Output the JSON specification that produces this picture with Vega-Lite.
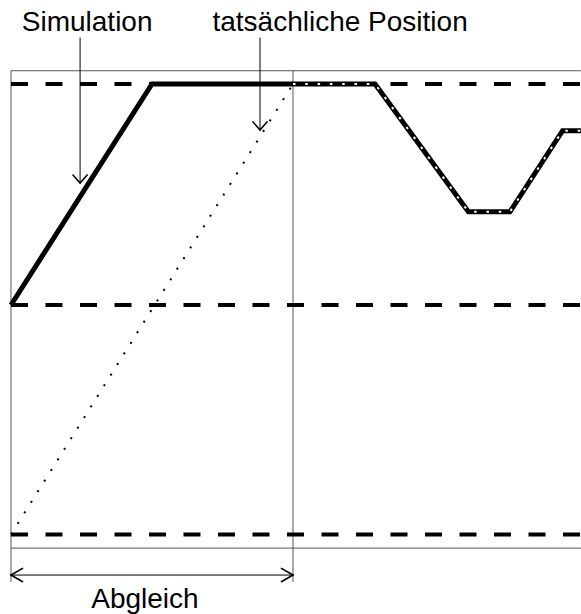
{
  "$schema": "https://vega.github.io/schema/vega-lite/v6.json",
  "width": 581,
  "height": 614,
  "autosize": "none",
  "padding": 0,
  "background": "white",
  "config": {"view": {"stroke": null}},
  "datasets": {
    "rules": [
      {"g": "f", "x": 0, "y": 106, "x2": 202.1, "y2": 106},
      {"g": "f", "x": 0, "y": -110, "x2": 202.1, "y2": -110},
      {"g": "f", "x": 0, "y": 106, "x2": 0, "y2": -125.3},
      {"g": "f", "x": 100, "y": 106, "x2": 100, "y2": -125.3},
      {"g": "a", "x": 24.5, "y": 121, "x2": 24.5, "y2": 55.2},
      {"g": "h", "x": 21.98, "y": 58.82, "x2": 24.5, "y2": 55.2},
      {"g": "h", "x": 27.02, "y": 58.82, "x2": 24.5, "y2": 55.2},
      {"g": "a", "x": 88.3, "y": 121, "x2": 88.3, "y2": 79.2},
      {"g": "h", "x": 85.82, "y": 82.82, "x2": 88.3, "y2": 79.2},
      {"g": "h", "x": 90.78, "y": 82.82, "x2": 88.3, "y2": 79.2},
      {"g": "a", "x": 0, "y": -122.2, "x2": 100, "y2": -122.2},
      {"g": "h", "x": 4.1, "y": -119.2, "x2": 0, "y2": -122.2},
      {"g": "h", "x": 4.1, "y": -125.2, "x2": 0, "y2": -122.2},
      {"g": "h", "x": 95.9, "y": -119.2, "x2": 100, "y2": -122.2},
      {"g": "h", "x": 95.9, "y": -125.2, "x2": 100, "y2": -122.2}
    ],
    "dash": [
      {"x": 0, "x2": 202.1, "y": 100},
      {"x": 0, "x2": 202.1, "y": 0},
      {"x": 0, "x2": 202.1, "y": -103.8}
    ],
    "sim": [
      {"i": 0, "x": 0, "y": 0},
      {"i": 1, "x": 50, "y": 100},
      {"i": 2, "x": 129.1, "y": 100},
      {"i": 3, "x": 162.2, "y": 42.2},
      {"i": 4, "x": 176.95, "y": 42.2},
      {"i": 5, "x": 195.6, "y": 78.9},
      {"i": 6, "x": 202.1, "y": 78.9}
    ],
    "ovl": [
      {"i": 0, "x": 100, "y": 100},
      {"i": 1, "x": 129.1, "y": 100},
      {"i": 2, "x": 162.2, "y": 42.2},
      {"i": 3, "x": 176.95, "y": 42.2},
      {"i": 4, "x": 195.6, "y": 78.9},
      {"i": 5, "x": 202.1, "y": 78.9}
    ],
    "real": [
      {"i": 0, "x": 0, "y": -103.8},
      {"i": 1, "x": 100, "y": 100}
    ],
    "labels": [
      {"x": 27.0, "y": 124.0, "label": "Simulation"},
      {"x": 116.7, "y": 124.0, "label": "tatsächliche Position"},
      {"x": 47.5, "y": -137.1, "label": "Abgleich"}
    ]
  },
  "encoding": {
    "x": {"field": "x", "type": "quantitative", "scale": {"domain": [-3.9, 202.13], "nice": false, "zero": false}, "axis": null},
    "y": {"field": "y", "type": "quantitative", "scale": {"domain": [-139.82, 138.01], "nice": false, "zero": false}, "axis": null}
  },
  "layer": [
    {
      "data": {"name": "rules"},
      "transform": [{"filter": "datum.g === 'f'"}],
      "mark": {"type": "rule", "stroke": "#555", "strokeWidth": 1},
      "encoding": {"x2": {"field": "x2"}, "y2": {"field": "y2"}}
    },
    {
      "data": {"name": "dash"},
      "mark": {"type": "rule", "stroke": "black", "strokeWidth": 4, "strokeDash": [17, 17.5], "strokeCap": "butt"},
      "encoding": {"x2": {"field": "x2"}}
    },
    {
      "data": {"name": "real"},
      "mark": {"type": "line", "stroke": "black", "strokeWidth": 2, "strokeDash": [2, 10.5], "strokeCap": "butt"},
      "encoding": {"order": {"field": "i", "type": "quantitative"}}
    },
    {
      "data": {"name": "sim"},
      "mark": {"type": "line", "stroke": "black", "strokeWidth": 5, "strokeJoin": "miter", "strokeCap": "butt"},
      "encoding": {"order": {"field": "i", "type": "quantitative"}}
    },
    {
      "data": {"name": "ovl"},
      "mark": {"type": "line", "stroke": "white", "strokeWidth": 2, "strokeDash": [2.5, 9.8], "strokeCap": "butt"},
      "encoding": {"order": {"field": "i", "type": "quantitative"}}
    },
    {
      "data": {"name": "rules"},
      "transform": [{"filter": "datum.g === 'a'"}],
      "mark": {"type": "rule", "stroke": "black", "strokeWidth": 1},
      "encoding": {"x2": {"field": "x2"}, "y2": {"field": "y2"}}
    },
    {
      "data": {"name": "rules"},
      "transform": [{"filter": "datum.g === 'h'"}],
      "mark": {"type": "rule", "stroke": "black", "strokeWidth": 1.6, "strokeCap": "round"},
      "encoding": {"x2": {"field": "x2"}, "y2": {"field": "y2"}}
    },
    {
      "data": {"name": "labels"},
      "mark": {"type": "text", "font": "Liberation Sans", "fontSize": 28, "align": "center", "baseline": "alphabetic", "color": "black"},
      "encoding": {"text": {"field": "label"}}
    }
  ]
}
